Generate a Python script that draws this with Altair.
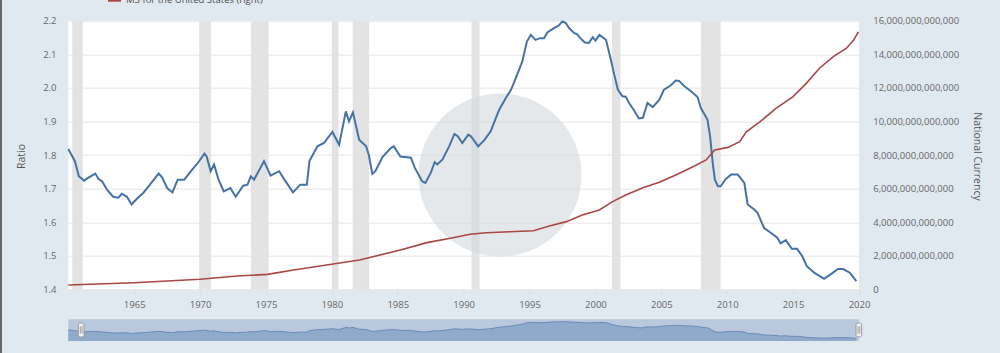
import altair as alt
import pandas as pd

# ---- data ----
v_year = [1960.0, 1960.5, 1960.8, 1961.2, 1961.5, 1962.05, 1962.3, 1962.56, 1962.94, 1963.4,
          1963.8, 1964.06, 1964.45, 1964.8, 1965.2, 1965.7, 1966.2, 1966.85, 1967.1, 1967.5,
          1967.9, 1968.3, 1968.8, 1969.4, 1969.8, 1970.33, 1970.5, 1970.8, 1971.06, 1971.4,
          1971.8, 1972.3, 1972.7, 1973.27, 1973.6, 1973.85, 1974.1, 1974.85, 1975.35, 1976.0,
          1976.4, 1977.05, 1977.6, 1978.1, 1978.3, 1978.9, 1979.4, 1980.04, 1980.55, 1981.06,
          1981.3, 1981.6, 1982.07, 1982.6, 1982.8, 1983.07, 1983.3, 1983.84, 1984.47, 1984.7,
          1985.2, 1986.0, 1986.3, 1986.85, 1987.1, 1987.5, 1987.8, 1988.0, 1988.4, 1988.9,
          1989.3, 1989.55, 1989.9, 1990.35, 1990.55, 1991.1, 1991.6, 1992.05, 1992.3, 1992.7,
          1993.2, 1993.6, 1993.85, 1994.45, 1994.8, 1995.1, 1995.45, 1995.8, 1996.1, 1996.35,
          1996.85, 1997.2, 1997.5, 1997.75, 1998.0, 1998.4, 1998.6, 1998.85, 1999.2, 1999.5,
          1999.8, 2000.0, 2000.3, 2000.8, 2001.2, 2001.4, 2001.7, 2002.05, 2002.3, 2002.55,
          2002.95, 2003.3, 2003.6, 2003.95, 2004.35, 2004.85, 2005.2, 2005.7, 2006.1, 2006.35,
          2006.75, 2007.25, 2007.75, 2008.0, 2008.5, 2008.7, 2008.9, 2009.06, 2009.3, 2009.5,
          2009.9, 2010.3, 2010.8, 2011.3, 2011.55, 2012.05, 2012.3, 2012.8, 2013.3, 2013.8,
          2014.05, 2014.45, 2014.9, 2015.3, 2015.7, 2016.05, 2016.6, 2017.35, 2017.85, 2018.4,
          2018.8, 2019.3, 2019.8]
v_ratio = [1.818, 1.782, 1.737, 1.724, 1.732, 1.745, 1.729, 1.722, 1.697, 1.676,
           1.673, 1.685, 1.676, 1.653, 1.670, 1.688, 1.712, 1.745, 1.735, 1.702,
           1.689, 1.727, 1.727, 1.757, 1.775, 1.804, 1.796, 1.752, 1.772, 1.727,
           1.692, 1.702, 1.676, 1.709, 1.712, 1.737, 1.727, 1.782, 1.739, 1.752,
           1.727, 1.689, 1.712, 1.712, 1.782, 1.826, 1.836, 1.869, 1.831, 1.930,
           1.900, 1.927, 1.846, 1.826, 1.801, 1.744, 1.752, 1.794, 1.821, 1.826,
           1.796, 1.792, 1.762, 1.722, 1.717, 1.747, 1.779, 1.772, 1.787, 1.826,
           1.863, 1.856, 1.836, 1.861, 1.856, 1.826, 1.846, 1.871, 1.896, 1.935,
           1.970, 1.995, 2.019, 2.079, 2.138, 2.158, 2.143, 2.148, 2.148, 2.165,
           2.178, 2.185, 2.198, 2.193, 2.178, 2.163, 2.160, 2.148, 2.135, 2.134,
           2.151, 2.141, 2.158, 2.143, 2.079, 2.044, 1.995, 1.975, 1.974, 1.955,
           1.932, 1.909, 1.911, 1.955, 1.943, 1.965, 1.995, 2.007, 2.022, 2.021,
           2.005, 1.990, 1.973, 1.940, 1.906, 1.856, 1.777, 1.727, 1.707, 1.707,
           1.729, 1.742, 1.742, 1.717, 1.653, 1.638, 1.628, 1.583, 1.569, 1.554,
           1.537, 1.547, 1.521, 1.521, 1.499, 1.469, 1.450, 1.432, 1.445, 1.461,
           1.461, 1.450, 1.425]

m3_year = [1960.0, 1965.0, 1970.0, 1972.8, 1975.1, 1977.1, 1979.6, 1982.1, 1985.2, 1987.2,
           1989.0, 1990.5, 1991.7, 1993.5, 1995.3, 1996.5, 1997.8, 1999.0, 2000.3, 2001.3,
           2002.3, 2003.6, 2004.85, 2006.1, 2007.4, 2008.4, 2009.05, 2010.05, 2010.95, 2011.45,
           2012.5, 2013.7, 2015.0, 2016.0, 2017.0, 2018.05, 2019.05, 2019.6, 2019.95]
m3_trillions = [0.27, 0.40, 0.61, 0.80, 0.90, 1.16, 1.46, 1.76, 2.35, 2.79,
                3.05, 3.29, 3.38, 3.44, 3.50, 3.78, 4.04, 4.43, 4.73, 5.23,
                5.62, 6.06, 6.38, 6.81, 7.31, 7.71, 8.30, 8.46, 8.80, 9.39,
                9.99, 10.78, 11.48, 12.27, 13.17, 13.86, 14.36, 14.85, 15.34]

rec_start = [1960.3, 1969.93, 1973.86, 1980.0, 1981.58, 1990.6, 2001.25, 2008.0]
rec_end = [1961.1, 1970.83, 1975.2, 1980.5, 1982.83, 1991.2, 2001.9, 2009.5]

x_ticks = [1965, 1970, 1975, 1980, 1985, 1990, 1995, 2000, 2005, 2010, 2015, 2020]
left_ticks = [1.4, 1.5, 1.6, 1.7, 1.8, 1.9, 2.0, 2.1, 2.2]
right_ticks = [0, 2e12, 4e12, 6e12, 8e12, 10e12, 12e12, 14e12, 16e12]

# ---- styling ----
W, H = 790.7, 268.8
BLUE = "#4572a7"
RED = "#aa4643"
FONT = "Open Sans"
LABEL = "#666666"
FS = 9.5

velocity = pd.DataFrame({"year": v_year, "ratio": v_ratio})
m3 = pd.DataFrame({"year": m3_year, "m3": [v * 1e12 for v in m3_trillions]})
rec = pd.DataFrame({"start": rec_start, "end": rec_end})
one = pd.DataFrame({"a": [0]})

xscale = alt.Scale(domain=[1960, 2020], nice=False, zero=False)
xaxis = alt.Axis(values=x_ticks, format="d", grid=False, domain=True, domainColor="#e6e6e6",
                 ticks=True, tickColor="#d8dee6", tickSize=5, labelPadding=5, labelFlush=False,
                 labelFontSize=FS, labelColor=LABEL, labelFont=FONT)

bands = alt.Chart(rec).mark_rect(color="#e3e3e3").encode(
    x=alt.X("start:Q", scale=xscale, axis=xaxis, title=None),
    x2="end:Q",
    y=alt.value(0), y2=alt.value(H),
)

# watermark globe (decoration)
globe = alt.Chart(one).mark_circle(size=26569, color="#d4d8de", opacity=0.6).encode(
    x=alt.value(431.7), y=alt.value(154.3)
)

blue = alt.Chart(velocity).mark_line(color=BLUE, strokeWidth=2).encode(
    x=alt.X("year:Q", scale=xscale, title=None),
    y=alt.Y("ratio:Q", scale=alt.Scale(domain=[1.4, 2.2], nice=False, zero=False),
            axis=alt.Axis(orient="left", values=left_ticks, format=".1f", grid=True,
                          gridColor="#e6e6e6", domain=False, ticks=False, tickSize=0,
                          labelPadding=12.3, labelFontSize=FS, labelColor=LABEL, labelFont=FONT,
                          title="Ratio", titleFont=FONT, titleFontSize=10.5, titleFontWeight="normal",
                          titleColor="#555555", titleAngle=270, titleX=-46.6, titleY=135.3,
                          titleAlign="center", titleBaseline="middle")),
)

red = alt.Chart(m3).mark_line(color=RED, strokeWidth=1.6).encode(
    x=alt.X("year:Q", scale=xscale, title=None),
    y=alt.Y("m3:Q", scale=alt.Scale(domain=[0, 16e12], nice=False),
            axis=alt.Axis(orient="right", values=right_ticks, format=",d", grid=False,
                          domain=False, ticks=False, tickSize=0, labelPadding=13.7,
                          labelFontSize=FS, labelColor=LABEL, labelFont=FONT,
                          title="National Currency", titleFont=FONT, titleFontSize=10.5,
                          titleFontWeight="normal", titleColor="#555555", titleAngle=90,
                          titleX=117.7, titleY=135.3, titleAlign="center", titleBaseline="middle")),
)

nav_band = alt.Chart(one).mark_rect(color="#b9c8dd").encode(
    x=alt.value(0), x2=alt.value(W), y=alt.value(298.5), y2=alt.value(320.3)
)

nav_area = alt.Chart(velocity).mark_area(color="#7f9cc5", line={"color": "#6b8bbb", "strokeWidth": 1}).encode(
    x=alt.X("year:Q", scale=xscale, title=None),
    y=alt.Y("ratio:Q", scale=alt.Scale(domain=[1.306, 2.314], range=[320.3, 298.3], nice=False, zero=False),
            axis=None),
    y2=alt.datum(1.306),
)

handle_l = alt.Chart(one).mark_rect(fill="#f2f2f2", stroke="#999999", strokeWidth=1, cornerRadius=2).encode(
    x=alt.value(10.0), x2=alt.value(15.7), y=alt.value(302.3), y2=alt.value(316.3)
)
handle_r = alt.Chart(one).mark_rect(fill="#f2f2f2", stroke="#999999", strokeWidth=1, cornerRadius=2).encode(
    x=alt.value(787.7), x2=alt.value(793.4), y=alt.value(302.3), y2=alt.value(316.3)
)
grips = []
for gx in [12.0, 13.8, 789.7, 791.5]:
    grips.append(alt.Chart(one).mark_rule(color="#888888", strokeWidth=0.8).encode(
        x=alt.value(gx), y=alt.value(305.5), y2=alt.value(313.0)))

swatch = alt.Chart(one).mark_rule(color=RED, strokeWidth=3).encode(
    x=alt.value(39.7), x2=alt.value(52.7), y=alt.value(-20.5)
)
legend_text = alt.Chart(one).mark_text(text="M3 for the United States (right)", align="left",
                                       baseline="alphabetic", fontSize=FS, font=FONT,
                                       color="#4d4d4d").encode(
    x=alt.value(57.7), y=alt.value(-18.2)
)
border = alt.Chart(one).mark_rule(color="#666666", strokeWidth=2).encode(
    x=alt.value(-67.3), y=alt.value(-20.7), y2=alt.value(332.3)
)

chart = alt.layer(
    bands, globe, blue, red, nav_band, nav_area, handle_l, handle_r, *grips,
    swatch, legend_text, border
).resolve_scale(y="independent").properties(
    width=W, height=H,
    autosize=alt.AutoSizeParams(type="none"),
    padding={"left": 68.3, "top": 20.7, "right": 141, "bottom": 63.5},
).configure(background="#e1e9f0").configure_view(fill="white", stroke=None)

chart.save("out.html", embed_options={"renderer": "svg", "actions": False})
